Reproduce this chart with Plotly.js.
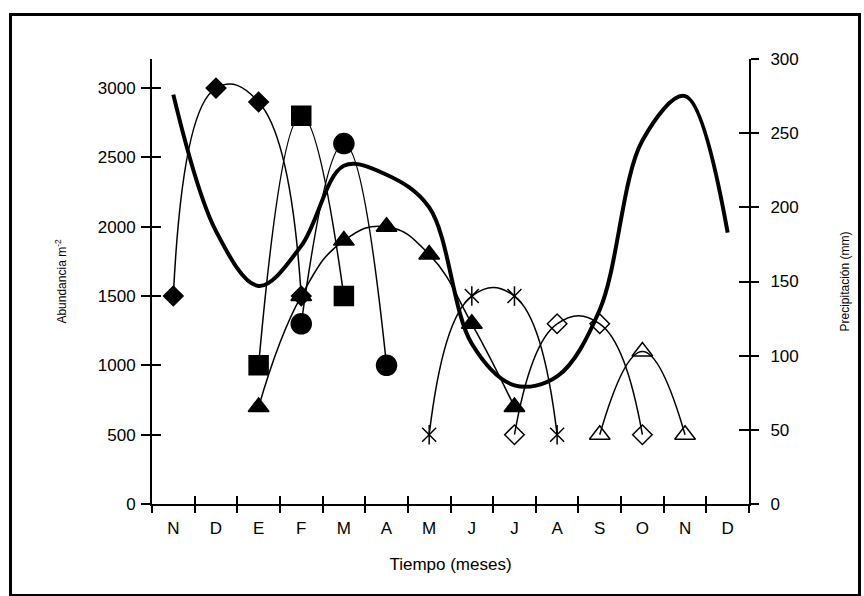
<!DOCTYPE html>
<html>
<head>
<meta charset="utf-8">
<script src="https://cdn.plot.ly/plotly-3.0.1.min.js"></script>
<style>
  html, body { margin: 0; padding: 0; background: #fff; }
  #wrap { position: relative; width: 864px; height: 596px; }
  #chart { position: absolute; left: 0; top: 0; width: 864px; height: 596px; }
  #frame { position: absolute; left: 9px; top: 13px; width: 846px; height: 578px; border: 3px solid #000; pointer-events: none; }
</style>
</head>
<body>
<div id="wrap">
  <div id="chart"></div>
  <div id="frame"></div>
</div>
<script>
// Month categories (x axis)
const months = ['N','D','E','F','M','A','M','J','J','A','S','O','N','D'];

// Abundance series (m^-2), left axis
const diamondFilled = [1500, 3000, 2900, 1500, null, null, null, null, null, null, null, null, null, null];
const squareFilled  = [null, null, 1000, 2800, 1500, null, null, null, null, null, null, null, null, null];
const circleFilled  = [null, null, null, 1300, 2600, 1000, null, null, null, null, null, null, null, null];
const triFilled     = [null, null, 700, 1500, 1900, 2000, 1800, 1300, 700, null, null, null, null, null];
const starSeries    = [null, null, null, null, null, null, 500, 1500, 1500, 500, null, null, null, null];
const diamondOpen   = [null, null, null, null, null, null, null, null, 500, 1300, 1300, 500, null, null];
const triOpen       = [null, null, null, null, null, null, null, null, null, null, 500, 1100, 500, null];

// Precipitation (mm), right axis
const precip = [276, 184, 147, 174, 228, 222, 200, 108, 80, 86, 131, 245, 275, 183];

const xIdx = months.map((_, i) => i);
const boundaries = months.map((_, i) => i - 0.5).concat([months.length - 0.5]);

const FONT = '"Liberation Sans", Arial, sans-serif';
const thin = { color: '#000', width: 1.5, shape: 'spline', smoothing: 1.3 };

function series(y, symbol, size, extra) {
  return Object.assign({
    x: xIdx, y: y, type: 'scatter', mode: 'lines+markers',
    line: thin, connectgaps: false, hoverinfo: 'skip',
    marker: { symbol: symbol, size: size, color: '#000', line: { color: '#000', width: 1.5 } },
    xaxis: 'x', yaxis: 'y', showlegend: false
  }, extra || {});
}

const traces = [
  series(diamondFilled, 'diamond', 15),
  series(squareFilled, 'square', 19),
  series(circleFilled, 'circle', 20),
  series(triFilled, 'triangle-up', 18),
  series(starSeries, 'x-thin-open', 14),
  { x: xIdx, y: starSeries, type: 'scatter', mode: 'markers', hoverinfo: 'skip', showlegend: false,
    marker: { symbol: 'line-ns-open', size: 14, color: '#000', line: { color: '#000', width: 1.5 } } },
  series(diamondOpen, 'diamond-open', 15),
  series(triOpen, 'triangle-up-open', 18),
  { x: xIdx, y: precip, type: 'scatter', mode: 'lines', hoverinfo: 'skip', showlegend: false,
    line: { color: '#000', width: 4, shape: 'spline', smoothing: 1 }, xaxis: 'x', yaxis: 'y2' }
];

const axBase = { showgrid: false, zeroline: false, color: '#000', tickcolor: '#000', tickwidth: 2,
  tickfont: { family: FONT, size: 17, color: '#000' } };

const layout = {
  width: 864, height: 596,
  margin: { l: 152, r: 115, t: 59, b: 92, pad: 0 },
  paper_bgcolor: '#fff', plot_bgcolor: '#fff',
  font: { family: FONT, color: '#000' },
  showlegend: false,
  xaxis: Object.assign({}, axBase, {
    range: [-0.5, months.length - 0.5], tickmode: 'array', tickvals: boundaries,
    ticktext: boundaries.map(() => ''), ticks: 'outside', ticklen: 7,
    showline: true, linewidth: 2, linecolor: '#000', showticklabels: false, fixedrange: true
  }),
  xaxis2: Object.assign({}, axBase, {
    overlaying: 'x', anchor: 'y', side: 'bottom',
    range: [-0.5, months.length - 0.5], tickmode: 'array', tickvals: boundaries,
    ticks: 'inside', ticklen: 8, showline: false, showticklabels: false
  }),
  xaxis3: Object.assign({}, axBase, {
    overlaying: 'x', anchor: 'y', side: 'bottom',
    range: [-0.5, months.length - 0.5], tickmode: 'array', tickvals: xIdx, ticktext: months,
    ticks: '', showline: false, ticklabelstandoff: 12,
    title: { text: 'Tiempo (meses)', font: { family: FONT, size: 17, color: '#000' }, standoff: 21 }
  }),
  yaxis: Object.assign({}, axBase, {
    range: [0, 3210], tickmode: 'array', tickvals: [0, 500, 1000, 1500, 2000, 2500, 3000],
    ticks: 'outside', ticklen: 9, showline: true, linewidth: 2, linecolor: '#000',
    ticklabelstandoff: 2,
    title: { text: 'Abundancia m<sup>-2</sup>', font: { family: FONT, size: 12, color: '#000' }, standoff: 29 }
  }),
  yaxis3: Object.assign({}, axBase, {
    overlaying: 'y', anchor: 'x', side: 'left', range: [0, 3210], tickmode: 'array',
    tickvals: [0, 500, 1000, 1500, 2000, 2500, 3000], ticks: 'inside', ticklen: 9,
    showline: false, showticklabels: false
  }),
  yaxis2: Object.assign({}, axBase, {
    overlaying: 'y', anchor: 'x', side: 'right', range: [0, 300], tickmode: 'array',
    tickvals: [0, 50, 100, 150, 200, 250, 300], ticks: 'outside', ticklen: 8,
    showline: true, linewidth: 2, linecolor: '#000', ticklabelstandoff: 8,
    title: { text: 'Precipitación (mm)', font: { family: FONT, size: 12, color: '#000' }, standoff: 43 }
  }),
  yaxis4: Object.assign({}, axBase, {
    overlaying: 'y', anchor: 'x', side: 'right', range: [0, 300], tickmode: 'array',
    tickvals: [0, 50, 100, 150, 200, 250, 300], ticks: 'inside', ticklen: 10,
    showline: false, showticklabels: false
  })
};

// empty helper traces so the overlay axes (cross ticks, labels) get subplots
traces.push({ x: [], y: [], type: 'scatter', xaxis: 'x2', yaxis: 'y', showlegend: false, hoverinfo: 'skip' });
traces.push({ x: [], y: [], type: 'scatter', xaxis: 'x3', yaxis: 'y', showlegend: false, hoverinfo: 'skip' });
traces.push({ x: [], y: [], type: 'scatter', xaxis: 'x', yaxis: 'y3', showlegend: false, hoverinfo: 'skip' });
traces.push({ x: [], y: [], type: 'scatter', xaxis: 'x', yaxis: 'y4', showlegend: false, hoverinfo: 'skip' });

Plotly.newPlot('chart', traces, layout, { staticPlot: true, displayModeBar: false });
</script>
</body>
</html>
